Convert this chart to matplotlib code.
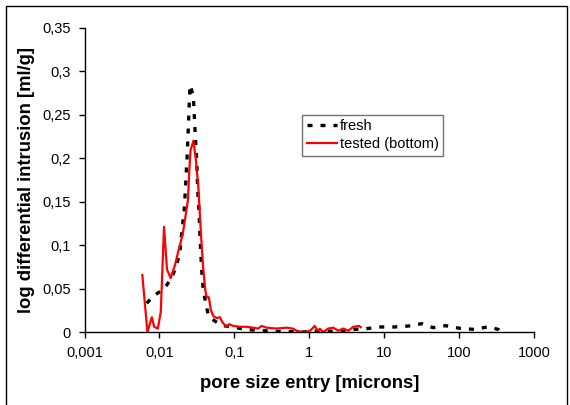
import matplotlib
matplotlib.use("Agg")
import matplotlib.pyplot as plt
from matplotlib.patches import Rectangle

plt.rcParams["font.family"] = ["Liberation Sans", "DejaVu Sans"]

# fresh sample (black dotted)
fresh_x = [0.00675, 0.0080, 0.0092, 0.0108, 0.0125, 0.0145, 0.0170, 0.0188,
           0.0202, 0.0214, 0.0224, 0.0235, 0.0243, 0.0250, 0.0255, 0.0283,
           0.0298, 0.0314, 0.0324, 0.0337, 0.0347, 0.0364, 0.0384, 0.0416,
           0.0447, 0.050, 0.061, 0.075, 0.097, 0.145, 0.2, 0.3, 0.5, 0.8,
           1.2, 2.0, 3.0, 4.0, 5.7, 8.8, 13.6, 21, 31.7, 45, 66, 103, 160,
           245, 334, 352]
fresh_y = [0.033, 0.040, 0.044, 0.048, 0.054, 0.062, 0.077, 0.094,
           0.121, 0.140, 0.171, 0.206, 0.236, 0.263, 0.284, 0.272,
           0.232, 0.198, 0.163, 0.140, 0.110, 0.075, 0.048, 0.033,
           0.020, 0.015, 0.010, 0.007, 0.0054, 0.003, 0.002, 0.001, 0.0005, 0.0,
           0.001, 0.001, 0.0005, 0.003, 0.0038, 0.0058, 0.0058, 0.0069, 0.0096, 0.005, 0.0073, 0.0042, 0.003,
           0.006, 0.003, 0.0]

# tested sample, bottom (red)
tested_x = [0.0059, 0.0069, 0.0079, 0.0085, 0.0095, 0.0104, 0.0115, 0.0126,
            0.0141, 0.0161, 0.0182, 0.0204, 0.0226, 0.0240, 0.0250, 0.0260,
            0.0284, 0.0306, 0.0330, 0.0357, 0.0382, 0.0409, 0.0427, 0.0456,
            0.0486, 0.0527, 0.0581, 0.0640, 0.0695, 0.0786, 0.0855, 0.0967,
            0.119, 0.145, 0.178, 0.208, 0.231, 0.268, 0.366, 0.498, 0.60,
            0.70, 0.85, 1.0, 1.07, 1.18, 1.28, 1.39, 1.54, 1.79, 2.09, 2.44,
            2.84, 3.32, 3.87, 4.65, 4.86]
tested_y = [0.0656, 0.0, 0.017, 0.006, 0.004, 0.023, 0.121, 0.072,
            0.062, 0.077, 0.096, 0.112, 0.137, 0.152, 0.186, 0.209,
            0.220, 0.198, 0.167, 0.114, 0.075, 0.048, 0.040, 0.040,
            0.025, 0.018, 0.016, 0.017, 0.011, 0.006, 0.009, 0.007,
            0.006, 0.006, 0.005, 0.004, 0.007, 0.005, 0.004, 0.005, 0.004,
            0.001, 0.0, 0.001, 0.003, 0.007, 0.002, 0.0035, 0.0, 0.004, 0.005, 0.0015,
            0.004, 0.0015, 0.006, 0.007, 0.0055]

xticks = [0.001, 0.01, 0.1, 1, 10, 100, 1000]
xtick_labels = ["0,001", "0,01", "0,1", "1", "10", "100", "1000"]
yticks = [0, 0.05, 0.1, 0.15, 0.2, 0.25, 0.3, 0.35]
ytick_labels = ["0", "0,05", "0,1", "0,15", "0,2", "0,25", "0,3", "0,35"]

fig = plt.figure(figsize=(5.7, 4.05), dpi=100)
ax = fig.add_axes([0.1484, 0.1802, 0.7884, 0.7514])

ax.plot(fresh_x, fresh_y, color="black", lw=2.4,
        linestyle=(0, (1.5, 2.4)), dash_capstyle="butt", label="fresh")
ax.plot(tested_x, tested_y, color="red", lw=1.6, label="tested (bottom)")

ax.set_xscale("log")
ax.set_xlim(0.001, 1000)
ax.set_ylim(0, 0.35)
ax.set_xticks(xticks)
ax.set_xticklabels(xtick_labels)
ax.xaxis.set_minor_locator(matplotlib.ticker.NullLocator())
ax.set_yticks(yticks)
ax.set_yticklabels(ytick_labels)
ax.tick_params(direction="out", length=4, width=1, labelsize=10.5, pad=6)

for side in ["top", "right"]:
    ax.spines[side].set_visible(False)
for side in ["left", "bottom"]:
    ax.spines[side].set_linewidth(1)

ax.set_xlabel("pore size entry [microns]", fontsize=13.3, fontweight="bold")
ax.set_ylabel("log differential intrusion [ml/g]", fontsize=13.3, fontweight="bold")
ax.xaxis.set_label_coords(0.5, -0.168)
ax.xaxis.label.set_va("center")
ax.yaxis.set_label_coords(-0.130, 0.5)
ax.yaxis.label.set_va("center")

leg = ax.legend(loc="upper left", bbox_to_anchor=(0.4844, 0.714),
                borderaxespad=0, fancybox=False, fontsize=10.5,
                handlelength=2.05, handletextpad=0.25, borderpad=0.3,
                labelspacing=0.3)
leg.get_frame().set_edgecolor("0.3")
leg.get_frame().set_linewidth(1)

# outer frame around the chart area
fig.patches.append(Rectangle((0.0114, -0.05), 0.984, 1.035, transform=fig.transFigure,
                             fill=False, edgecolor="black", lw=1))

fig.savefig("out.png", dpi=100)
